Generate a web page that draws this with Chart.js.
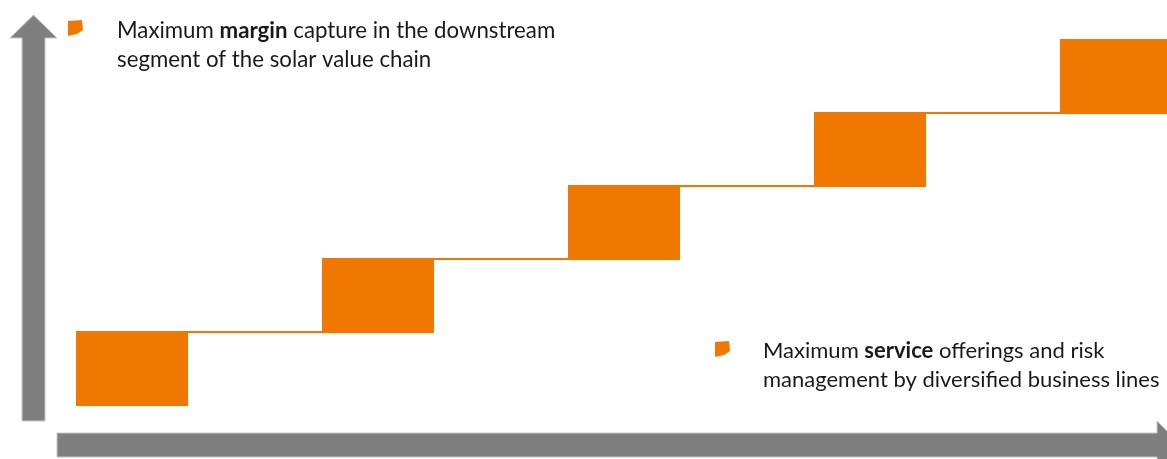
<!DOCTYPE html>
<html>
<head>
<meta charset="utf-8">
<script src="https://cdn.jsdelivr.net/npm/chart.js@4.4.1/dist/chart.umd.min.js"></script>
<style>
  html, body { margin: 0; padding: 0; background: #ffffff; overflow: hidden; }
  #wrap { width: 1167px; height: 459px; position: relative; }
</style>
</head>
<body>
<div id="wrap"><canvas id="c" width="1167" height="459"></canvas></div>
<script>
// ---- data ----
const steps = ["Step 1", "Step 2", "Step 3", "Step 4", "Step 5"];
const stepIndex = [0, 1, 2, 3, 4];
const stepLow = [0, 1, 2, 3, 4];
const stepHigh = [1, 2, 3, 4, 5];
const noteTop = [
  [["Maximum ", false], ["margin", true], [" capture in the downstream", false]],
  [["segment of the solar value chain", false]]
];
const noteBottom = [
  [["Maximum ", false], ["service", true], [" offerings and risk", false]],
  [["management by diversified business lines", false]]
];

// ---- styles ----
const ORANGE = "#F07800";
const GREY = "#7F7F7F";
const TEXT = "#1a1a1a";
const FONT = "Lato, 'Open Sans', sans-serif";

const barData = stepIndex.map((x, i) => ({ x: x, y: [stepLow[i], stepHigh[i]] }));
const lineData = stepIndex.map((x, i) => ({ x: x, y: stepHigh[i] }));

function runsWidth(ctx, line, size) {
  let w = 0;
  for (const [t, b] of line) {
    ctx.font = (b ? "bold " : "") + size + "px " + FONT;
    w += ctx.measureText(t).width;
  }
  return w;
}
function drawRuns(ctx, line, x, y, size) {
  for (const [t, b] of line) {
    ctx.font = (b ? "bold " : "") + size + "px " + FONT;
    ctx.fillText(t, x, y);
    x += ctx.measureText(t).width;
  }
}
function bullet(ctx, x, y) {
  ctx.beginPath();
  ctx.moveTo(x, y + 1);
  ctx.lineTo(x + 14, y);
  ctx.lineTo(x + 15, y + 10);
  ctx.lineTo(x + 9, y + 14);
  ctx.lineTo(x, y + 16);
  ctx.closePath();
  ctx.fillStyle = ORANGE;
  ctx.fill();
}
function note(ctx, lines, bx, by, tx, baseline, targetWidth, lead) {
  bullet(ctx, bx, by);
  let size = 30;
  while (size > 10 && runsWidth(ctx, lines[0], size) > targetWidth) size -= 0.25;
  ctx.fillStyle = TEXT;
  ctx.textBaseline = "alphabetic";
  lines.forEach((ln, i) => drawRuns(ctx, ln, tx, baseline + i * lead, size));
}

const decor = {
  id: "decor",
  beforeDatasetsDraw(chart) {
    const ctx = chart.ctx;
    ctx.save();
    ctx.fillStyle = GREY;
    ctx.strokeStyle = "#c8c8c8";
    ctx.lineWidth = 1;
    // vertical arrow (y axis)
    ctx.beginPath();
    ctx.moveTo(22, 421);
    ctx.lineTo(22, 38);
    ctx.lineTo(10, 38);
    ctx.lineTo(33.5, 15);
    ctx.lineTo(57, 38);
    ctx.lineTo(45, 38);
    ctx.lineTo(45, 421);
    ctx.closePath();
    ctx.fill();
    ctx.stroke();
    // horizontal arrow (x axis)
    ctx.beginPath();
    ctx.moveTo(57, 433);
    ctx.lineTo(1157, 433);
    ctx.lineTo(1157, 421);
    ctx.lineTo(1181, 445);
    ctx.lineTo(1157, 469);
    ctx.lineTo(1157, 457);
    ctx.lineTo(57, 457);
    ctx.closePath();
    ctx.fill();
    ctx.stroke();
    ctx.restore();
  },
  afterDraw(chart) {
    const ctx = chart.ctx;
    ctx.save();
    note(ctx, noteTop, 68, 20, 117, 38, 443, 28.5);
    note(ctx, noteBottom, 715, 341, 763, 358, 345, 29);
    ctx.restore();
  }
};

new Chart(document.getElementById("c"), {
  data: {
    labels: steps,
    datasets: [
      {
        type: "bar",
        label: "Steps",
        data: barData,
        backgroundColor: ORANGE,
        borderWidth: 0,
        inflateAmount: 1,
        barThickness: 110,
        order: 0
      },
      {
        type: "line",
        label: "Connector",
        data: lineData,
        borderColor: ORANGE,
        borderWidth: 2,
        stepped: true,
        pointRadius: 0,
        fill: false,
        order: 1
      }
    ]
  },
  options: {
    responsive: false,
    animation: false,
    layout: { padding: 0 },
    plugins: { legend: { display: false }, tooltip: { enabled: false } },
    scales: {
      x: { type: "linear", display: false, min: -132 / 246, max: (1167 - 132) / 246, offset: false },
      y: { type: "linear", display: false, min: -(459 - 405) / 73, max: 405 / 73 }
    }
  },
  plugins: [decor]
});
</script>
</body>
</html>
